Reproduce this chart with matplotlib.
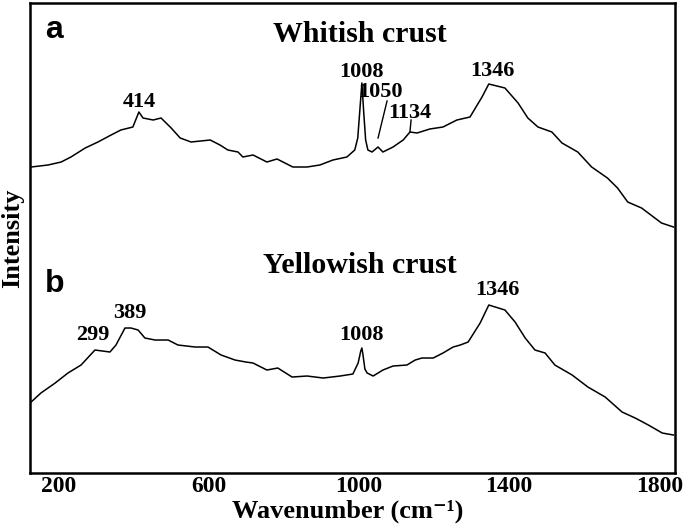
import matplotlib
matplotlib.use('Agg')
import matplotlib.pyplot as plt

# whitish crust spectrum (a), arbitrary intensity units
top_wn = [127, 172, 207, 233, 271, 305, 340, 366, 398, 414, 425, 452, 473, 500,
          524, 553, 604, 630, 651, 678, 691, 718, 755, 782, 824, 862, 896, 931,
          968, 989, 997, 1003, 1008, 1013, 1018, 1024, 1035, 1051, 1064, 1091,
          1118, 1136, 1155, 1189, 1224, 1261, 1296, 1328, 1346, 1389, 1424, 1450,
          1477, 1514, 1541, 1583, 1620, 1662, 1689, 1716, 1753, 1806, 1838]
top_int = [306, 308, 311, 316, 325, 331, 338, 343, 346, 361, 355, 353, 355, 345,
           335, 331, 333, 328, 323, 321, 316, 318, 311, 314, 306, 306, 308, 313,
           316, 323, 335, 365, 390, 360, 333, 323, 321, 326, 321, 326,
           333, 341, 340, 344, 346, 353, 356, 376, 389, 385, 370, 355,
           346, 341, 330, 321, 306, 295, 285, 271, 265, 250, 246]

# yellowish crust spectrum (b)
bot_wn = [127, 153, 191, 225, 260, 297, 337, 353, 377, 393, 412, 430, 457, 492,
          518, 564, 598, 633, 670, 699, 718, 755, 784, 822, 862, 905, 950, 984,
          998, 1005, 1008, 1011, 1016, 1022, 1038, 1064, 1091, 1128, 1150, 1168,
          1198, 1224, 1251, 1270, 1291, 1323, 1346, 1389, 1416, 1443, 1469, 1496,
          1522, 1568, 1610, 1656, 1701, 1736, 1771, 1808, 1838]
bot_int = [71, 80, 90, 100, 108, 123, 121, 128, 145, 145, 143, 135, 133, 133,
           128, 126, 126, 118, 113, 111, 110, 103, 105, 96, 97, 95, 97, 99,
           110, 122, 125, 118, 104, 100, 97, 103, 107, 108, 113, 115,
           115, 120, 126, 128, 131, 150, 168, 163, 151, 135, 123, 120,
           108, 98, 86, 76, 61, 55, 48, 40, 38]

ticks = [200, 600, 1000, 1400, 1800]

# peak labels: (text, x, y)
top_labels = [('414', 414, 366), ('1008', 1008, 396), ('1050', 1058, 376),
              ('1134', 1136, 355), ('1346', 1357, 397)]
bot_labels = [('299', 292, 133), ('389', 391, 155), ('1008', 1006, 133), ('1346', 1368, 178)]

serif = ['Liberation Serif', 'DejaVu Serif']

fig = plt.figure(figsize=(6.85, 5.25), dpi=100)
ax = fig.add_axes([0.0438, 0.099, 0.9416, 0.8953])

ax.plot(top_wn, top_int, color='black', lw=1.1)
ax.plot(bot_wn, bot_int, color='black', lw=1.1)

ax.set_xlim(124, 1842)
ax.set_ylim(0, 470)
ax.set_xticks(ticks)
ax.set_xticklabels([str(t) for t in ticks], fontfamily=serif, fontweight='bold', fontsize=17)
ax.set_yticks([])
ax.tick_params(axis='x', length=0, pad=2)
for s in ax.spines.values():
    s.set_linewidth(1.8)

fig.text(0.508, 0.014, 'Wavenumber (cm\u207b\u00b9)', ha='center', va='baseline',
         fontfamily=serif, fontweight='bold', fontsize=19)
ax.set_ylabel('Intensity', fontfamily=serif, fontweight='bold', fontsize=19, labelpad=4)

for txt, x, y in top_labels + bot_labels:
    ax.text(x, y, txt, ha='center', va='baseline', fontfamily=serif, fontweight='bold', fontsize=16)

# leader lines for the small peaks
ax.plot([1075, 1051], [372, 335], color='black', lw=1.0)
ax.plot([1139, 1136], [353, 341], color='black', lw=1.0)

ax.text(1003, 431, 'Whitish crust', ha='center', va='baseline', fontfamily=serif, fontweight='bold', fontsize=21.5)
ax.text(1003, 200, 'Yellowish crust', ha='center', va='baseline', fontfamily=serif, fontweight='bold', fontsize=21.5)

ax.text(164, 435, 'a', ha='left', va='baseline', fontfamily='Liberation Sans', fontweight='bold', fontsize=23)
ax.text(164, 181, 'b', ha='left', va='baseline', fontfamily='Liberation Sans', fontweight='bold', fontsize=23)

fig.savefig('out.png', dpi=100)
